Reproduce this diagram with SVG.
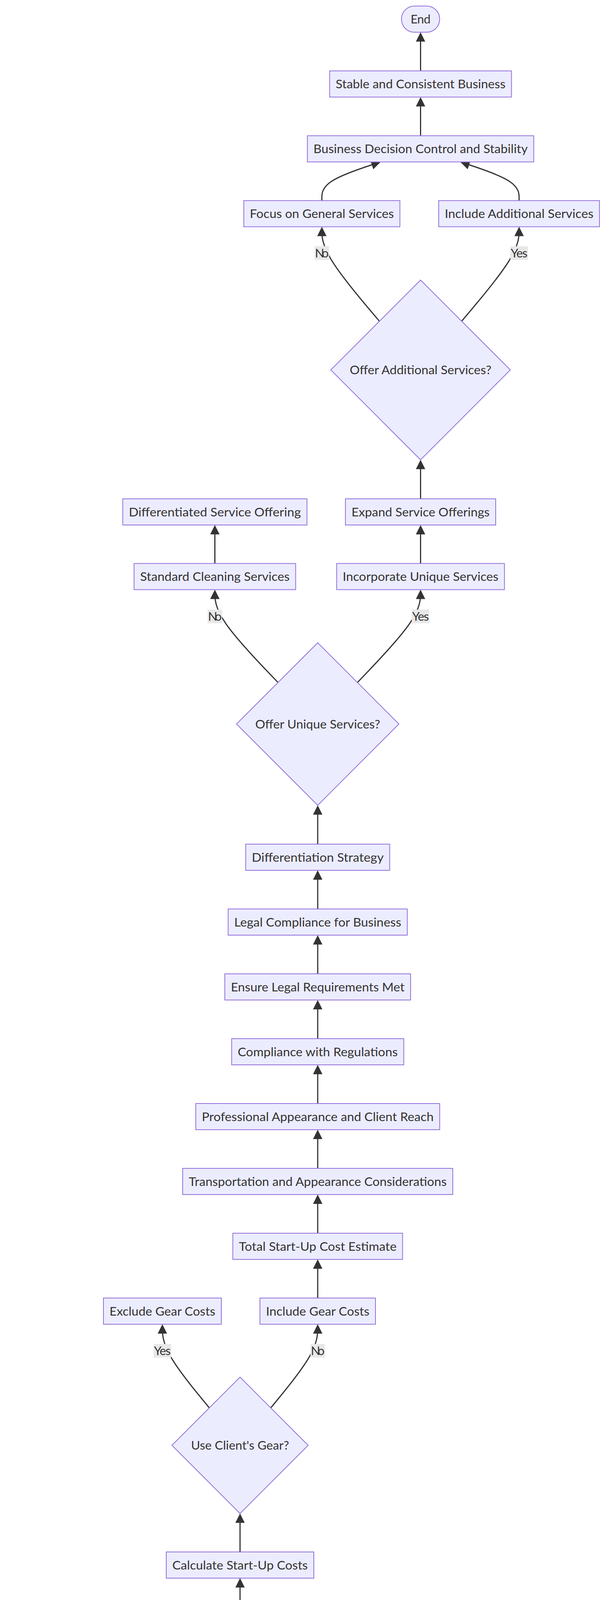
<svg xmlns="http://www.w3.org/2000/svg" width="1568" height="6454" viewBox="0 0 1568 6454">
<style>
.n{fill:#ECECFF;stroke:#9370DB;stroke-width:2}
.t{font-family:"Trebuchet MS",Lato,"Liberation Sans",sans-serif;font-size:31px;fill:#333333;text-anchor:middle}
.e{fill:none;stroke:#333333;stroke-width:3;marker-end:url(#arrow)}
.lb{fill:#e8e8e8}
</style>
<defs>
<marker id="arrow" viewBox="0 0 10 10" refX="7.5" refY="5" markerUnits="userSpaceOnUse" markerWidth="24" markerHeight="24" orient="auto">
<path d="M0,0 L10,5 L0,10 z" fill="#333333"/>
</marker>
</defs>
<rect x="0" y="0" width="1568" height="6454" fill="#ffffff"/>

<g id="connectors">
<path class="e" d="M1077.5,181.5 V88.5"/>
<path class="e" d="M1077.5,347.5 V254.5"/>
<path class="e" d="M824.6,513.5 L824.6,505.3 C824.6,497.1 824.6,480.5 849.7,464 C874.9,447.5 925.1,431 950.3,422.75 L969.7,416.4"/>
<path class="e" d="M1330,513.5 L1330,505.3 C1330,497.1 1330,480.5 1304.9,464 C1279.7,447.5 1229.5,431 1204.3,422.75 L1184.9,416.4"/>
<path class="e" d="M972.1,822.4 L947.5,793.3 C922.9,764.2 873.8,706 849.2,665.7 C824.6,625.3 824.6,602.9 824.6,591.6 L824.6,586.5"/>
<path class="e" d="M1182.8,822.3 L1207.3,793.2 C1231.9,764.1 1280.9,706 1305.5,665.6 C1330,625.3 1330,602.8 1330,591.5 L1330,586.5"/>
<path class="e" d="M1077.5,1277 V1183"/>
<path class="e" d="M1077.5,1442.5 V1350"/>
<path class="e" d="M550.5,1442.5 V1350"/>
<path class="e" d="M712.3,1747.2 L685.3,1719 C658.4,1690.8 604.4,1634.4 577.5,1594.8 C550.5,1555.1 550.5,1532.2 550.5,1520.75 L550.5,1515.5"/>
<path class="e" d="M915.7,1747.2 L942.7,1719 C969.6,1690.8 1023.6,1634.4 1050.5,1594.8 C1077.5,1555.1 1077.5,1532.2 1077.5,1520.75 L1077.5,1515.5"/>
<path class="e" d="M814,2161 V2067.5"/>
<path class="e" d="M814,2327 V2234"/>
<path class="e" d="M814,2493 V2400"/>
<path class="e" d="M814,2659 V2566"/>
<path class="e" d="M814,2825 V2732"/>
<path class="e" d="M814,2991 V2898"/>
<path class="e" d="M814,3157 V3064"/>
<path class="e" d="M814,3323 V3230"/>
<path class="e" d="M536.3,3604.2 L516.3,3579.8 C496.2,3555.5 456.1,3506.7 436.1,3471 C416,3435.3 416,3412.5 416,3401.2 L416,3396"/>
<path class="e" d="M693.7,3604.2 L713.8,3579.8 C733.8,3555.5 773.9,3506.7 794,3471 C814,3435.3 814,3412.5 814,3401.2 L814,3396"/>
<path class="e" d="M615,3973 V3880.5"/>
<path class="e" d="M615,4139.5 V4046"/>
<path class="e" d="M615,4305.5 V4212.5"/>
<path class="e" d="M615,4472 V4378.5"/>
<path class="e" d="M306.6,4758.9 L283.4,4733.5 C260.2,4708.1 213.9,4657.3 190.7,4620.6 C167.5,4583.9 167.5,4561.4 167.5,4550.1 L167.5,4545"/>
<path class="e" d="M475.6,4758.9 L498.8,4733.5 C522.1,4708.1 568.5,4657.3 591.8,4620.6 C615,4583.9 615,4561.4 615,4550.1 L615,4545"/>
<path class="e" d="M391,5127.5 V5034.5"/>
<path class="e" d="M391,5293.5 V5200.5"/>
<path class="e" d="M495.8,5599.2 L478.3,5570.7 C460.9,5542.1 425.9,5485.1 408.5,5445.3 C391,5405.4 391,5382.9 391,5371.6 L391,5366.5"/>
<path class="e" d="M702.2,5599.2 L719.7,5570.7 C737.1,5542.1 772.1,5485.1 789.5,5445.3 C807,5405.4 807,5382.9 807,5371.6 L807,5366.5"/>
<path class="e" d="M599,6139 V6046"/>
<path class="e" d="M599,6305 V6212"/>
</g>

<g id="edge-labels">
<rect class="lb" x="806.1" y="630.3" width="37" height="35"/><text class="t" x="824.6" y="658.8" textLength="35">No</text>
<rect class="lb" x="1307.5" y="630.3" width="45" height="35"/><text class="t" x="1330" y="658.8" textLength="43">Yes</text>
<rect class="lb" x="532" y="1560.5" width="37" height="35"/><text class="t" x="550.5" y="1589" textLength="35">No</text>
<rect class="lb" x="1055" y="1560.5" width="45" height="35"/><text class="t" x="1077.5" y="1589" textLength="43">Yes</text>
<rect class="lb" x="393.5" y="3440.5" width="45" height="35"/><text class="t" x="416" y="3469" textLength="43">Yes</text>
<rect class="lb" x="795.5" y="3440.5" width="37" height="35"/><text class="t" x="814" y="3469" textLength="35">No</text>
<rect class="lb" x="145" y="4589" width="45" height="35"/><text class="t" x="167.5" y="4617.5" textLength="43">Yes</text>
<rect class="lb" x="596.5" y="4589" width="37" height="35"/><text class="t" x="615" y="4617.5" textLength="35">No</text>
<rect class="lb" x="368.5" y="5410.5" width="45" height="35"/><text class="t" x="391" y="5439" textLength="43">Yes</text>
<rect class="lb" x="788.5" y="5410.5" width="37" height="35"/><text class="t" x="807" y="5439" textLength="35">No</text>
</g>

<g id="end-top"><rect class="n" x="1028.5" y="15.5" width="98" height="67" rx="33.5" ry="33.5"/><text class="t" x="1077.5" y="60" textLength="51">End</text></g>
<g id="stable-business"><rect class="n" x="844.5" y="181.5" width="466" height="67"/><text class="t" x="1077.5" y="226" textLength="435" lengthAdjust="spacingAndGlyphs">Stable and Consistent Business</text></g>
<g id="business-decision"><rect class="n" x="787.5" y="347.5" width="580" height="67"/><text class="t" x="1077.5" y="392" textLength="549" lengthAdjust="spacingAndGlyphs">Business Decision Control and Stability</text></g>
<g id="focus-general"><rect class="n" x="624.6" y="513.5" width="400" height="67"/><text class="t" x="824.6" y="558" textLength="369" lengthAdjust="spacingAndGlyphs">Focus on General Services</text></g>
<g id="include-additional"><rect class="n" x="1124" y="513.5" width="412" height="67"/><text class="t" x="1330" y="558" textLength="381" lengthAdjust="spacingAndGlyphs">Include Additional Services</text></g>
<g id="offer-additional"><polygon class="n" points="1077.5,717 1307.5,947 1077.5,1177 847.5,947"/><text class="t" x="1077.5" y="958" textLength="363" lengthAdjust="spacingAndGlyphs">Offer Additional Services?</text></g>
<g id="expand-offerings"><rect class="n" x="885" y="1277" width="385" height="67"/><text class="t" x="1077.5" y="1321.5" textLength="354" lengthAdjust="spacingAndGlyphs">Expand Service Offerings</text></g>
<g id="differentiated-offering"><rect class="n" x="314.5" y="1277" width="472" height="67"/><text class="t" x="550.5" y="1321.5" textLength="441" lengthAdjust="spacingAndGlyphs">Differentiated Service Offering</text></g>
<g id="incorporate-unique"><rect class="n" x="862.5" y="1442.5" width="430" height="67"/><text class="t" x="1077.5" y="1487" textLength="399" lengthAdjust="spacingAndGlyphs">Incorporate Unique Services</text></g>
<g id="standard-cleaning"><rect class="n" x="343.5" y="1442.5" width="414" height="67"/><text class="t" x="550.5" y="1487" textLength="383" lengthAdjust="spacingAndGlyphs">Standard Cleaning Services</text></g>
<g id="offer-unique"><polygon class="n" points="814,1645.5 1022,1853.5 814,2061.5 606,1853.5"/><text class="t" x="814" y="1864.5" textLength="320" lengthAdjust="spacingAndGlyphs">Offer Unique Services?</text></g>
<g id="differentiation-strategy"><rect class="n" x="629.5" y="2161" width="369" height="67"/><text class="t" x="814" y="2205.5" textLength="338" lengthAdjust="spacingAndGlyphs">Differentiation Strategy</text></g>
<g id="legal-compliance"><rect class="n" x="584.5" y="2327" width="459" height="67"/><text class="t" x="814" y="2371.5" textLength="428" lengthAdjust="spacingAndGlyphs">Legal Compliance for Business</text></g>
<g id="ensure-legal"><rect class="n" x="576" y="2493" width="476" height="67"/><text class="t" x="814" y="2537.5" textLength="445" lengthAdjust="spacingAndGlyphs">Ensure Legal Requirements Met</text></g>
<g id="compliance-regulations"><rect class="n" x="593.5" y="2659" width="441" height="67"/><text class="t" x="814" y="2703.5" textLength="410" lengthAdjust="spacingAndGlyphs">Compliance with Regulations</text></g>
<g id="professional-appearance"><rect class="n" x="501.5" y="2825" width="625" height="67"/><text class="t" x="814" y="2869.5" textLength="594" lengthAdjust="spacingAndGlyphs">Professional Appearance and Client Reach</text></g>
<g id="transportation"><rect class="n" x="468" y="2991" width="692" height="67"/><text class="t" x="814" y="3035.5" textLength="661" lengthAdjust="spacingAndGlyphs">Transportation and Appearance Considerations</text></g>
<g id="total-cost"><rect class="n" x="596.5" y="3157" width="435" height="67"/><text class="t" x="814" y="3201.5" textLength="404" lengthAdjust="spacingAndGlyphs">Total Start-Up Cost Estimate</text></g>
<g id="include-gear"><rect class="n" x="666" y="3323" width="296" height="67"/><text class="t" x="814" y="3367.5" textLength="265" lengthAdjust="spacingAndGlyphs">Include Gear Costs</text></g>
<g id="exclude-gear"><rect class="n" x="265" y="3323" width="302" height="67"/><text class="t" x="416" y="3367.5" textLength="271" lengthAdjust="spacingAndGlyphs">Exclude Gear Costs</text></g>
<g id="use-client-gear"><polygon class="n" points="615,3525.5 789.5,3700 615,3874.5 440.5,3700"/><text class="t" x="615" y="3711" textLength="251" lengthAdjust="spacingAndGlyphs">Use Client's Gear?</text></g>
<g id="calculate-costs"><rect class="n" x="426" y="3973" width="378" height="67"/><text class="t" x="615" y="4017.5" textLength="347" lengthAdjust="spacingAndGlyphs">Calculate Start-Up Costs</text></g>
<g id="reputation-asset"><rect class="n" x="462" y="4139.5" width="306" height="67"/><text class="t" x="615" y="4184" textLength="275" lengthAdjust="spacingAndGlyphs">Reputation as Asset</text></g>
<g id="establishing-reputation"><rect class="n" x="433.5" y="4305.5" width="363" height="67"/><text class="t" x="615" y="4350" textLength="332" lengthAdjust="spacingAndGlyphs">Establishing Reputation</text></g>
<g id="establish-locally"><rect class="n" x="418.5" y="4472" width="393" height="67"/><text class="t" x="615" y="4516.5" textLength="362" lengthAdjust="spacingAndGlyphs">Establish Business Locally</text></g>
<g id="look-further"><rect class="n" x="15.5" y="4472" width="304" height="67"/><text class="t" x="167.5" y="4516.5" textLength="273" lengthAdjust="spacingAndGlyphs">Look Further Afield</text></g>
<g id="market-saturated"><polygon class="n" points="391,4674.5 568,4851.5 391,5028.5 214,4851.5"/><text class="t" x="391" y="4862.5" textLength="257" lengthAdjust="spacingAndGlyphs">Market Saturated?</text></g>
<g id="market-research"><rect class="n" x="102.5" y="5127.5" width="577" height="67"/><text class="t" x="391" y="5172" textLength="546" lengthAdjust="spacingAndGlyphs">Market Research and Location Analysis</text></g>
<g id="consider-starting"><rect class="n" x="124.5" y="5293.5" width="533" height="67"/><text class="t" x="391" y="5338" textLength="502" lengthAdjust="spacingAndGlyphs">Consider Starting Cleaning Business</text></g>
<g id="end-bottom"><rect class="n" x="757.5" y="5293.5" width="99" height="67" rx="33.5" ry="33.5"/><text class="t" x="807" y="5338" textLength="51">End</text></g>
<g id="good-health"><polygon class="n" points="599,5496 871,5768 599,6040 327,5768"/><text class="t" x="599" y="5779" textLength="447" lengthAdjust="spacingAndGlyphs">Good Health and Positive View?</text></g>
<g id="assess-health"><rect class="n" x="330" y="6139" width="538" height="67"/><text class="t" x="599" y="6183.5" textLength="507" lengthAdjust="spacingAndGlyphs">Assess Personal Health and Attitude</text></g>
<g id="start"><rect class="n" x="541" y="6305" width="116" height="67" rx="33.5" ry="33.5"/><text class="t" x="599" y="6349.5" textLength="68">Start</text></g>
</svg>
